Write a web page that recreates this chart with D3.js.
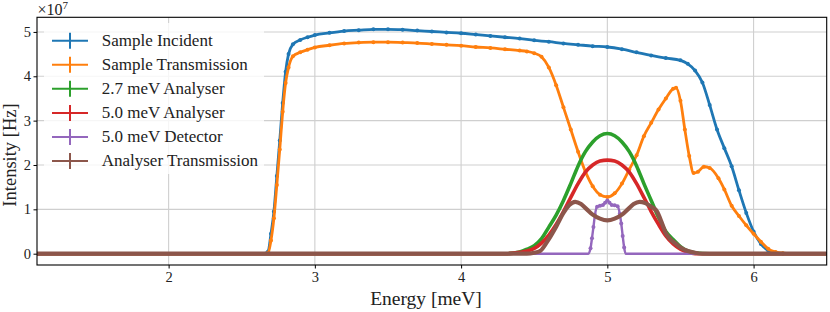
<!DOCTYPE html>
<html>
<head>
<meta charset="utf-8">
<script src="https://cdn.jsdelivr.net/npm/d3@7"></script>
<style>
  body { margin: 0; background: #fff; }
  svg text { font-family: "Liberation Serif", "Times New Roman", serif; fill: #222; }
</style>
</head>
<body>
<svg id="fig" width="830" height="312"></svg>
<script>
// values are in units of 1e7 Hz, energies in meV
var incidentE = [1.1, 2.65, 2.68, 2.70, 2.72, 2.74, 2.76, 2.78, 2.80, 2.82, 2.85, 2.90, 2.95, 3.00, 3.10, 3.20, 3.30, 3.40, 3.50, 3.60, 3.70, 3.80, 3.90, 4.00, 4.10, 4.20, 4.30, 4.40, 4.50, 4.60, 4.70, 4.80, 4.90, 5.00, 5.10, 5.20, 5.30, 5.40, 5.50, 5.55, 5.60, 5.65, 5.70, 5.75, 5.80, 5.85, 5.90, 5.95, 6.00, 6.05, 6.10, 6.15, 6.20, 6.25, 6.50];
var incidentI = [0, 0, 0.05, 0.45, 0.95, 1.75, 2.55, 3.4, 4.1, 4.5, 4.72, 4.82, 4.88, 4.93, 4.98, 5.02, 5.04, 5.06, 5.06, 5.05, 5.03, 5.01, 4.99, 4.97, 4.94, 4.91, 4.88, 4.85, 4.81, 4.78, 4.74, 4.71, 4.68, 4.66, 4.61, 4.54, 4.47, 4.41, 4.36, 4.28, 4.13, 3.86, 3.35, 2.8, 2.38, 1.97, 1.43, 0.92, 0.5, 0.22, 0.07, 0.02, 0.005, 0, 0];

var transE = [1.1, 2.65, 2.68, 2.70, 2.72, 2.74, 2.76, 2.78, 2.80, 2.82, 2.85, 2.90, 2.95, 3.00, 3.10, 3.20, 3.30, 3.40, 3.50, 3.60, 3.70, 3.80, 3.90, 4.00, 4.10, 4.20, 4.30, 4.40, 4.45, 4.50, 4.55, 4.60, 4.65, 4.70, 4.75, 4.80, 4.85, 4.90, 4.95, 5.00, 5.05, 5.10, 5.15, 5.20, 5.25, 5.30, 5.35, 5.40, 5.45, 5.47, 5.50, 5.53, 5.56, 5.59, 5.62, 5.66, 5.70, 5.76, 5.80, 5.85, 5.90, 5.95, 6.00, 6.05, 6.10, 6.15, 6.20, 6.25, 6.50];
var transI = [0, 0, 0.02, 0.3, 0.8, 1.55, 2.35, 3.2, 3.85, 4.2, 4.45, 4.54, 4.6, 4.65, 4.7, 4.74, 4.76, 4.77, 4.77, 4.76, 4.75, 4.73, 4.71, 4.69, 4.66, 4.64, 4.61, 4.58, 4.56, 4.52, 4.44, 4.2, 3.8, 3.3, 2.8, 2.3, 1.85, 1.52, 1.33, 1.28, 1.36, 1.58, 1.9, 2.22, 2.65, 2.95, 3.25, 3.5, 3.72, 3.74, 3.45, 2.8, 2.2, 1.82, 1.85, 1.96, 1.93, 1.7, 1.45, 1.08, 0.85, 0.64, 0.45, 0.27, 0.11, 0.04, 0.01, 0, 0];

var ana27E = [1.1, 4.30, 4.40, 4.45, 4.50, 4.55, 4.60, 4.65, 4.70, 4.75, 4.80, 4.85, 4.90, 4.95, 5.00, 5.05, 5.10, 5.15, 5.20, 5.25, 5.30, 5.35, 5.40, 5.45, 5.50, 5.55, 5.60, 5.70, 6.50];
var ana27I = [0, 0, 0.04, 0.1, 0.18, 0.34, 0.6, 0.87, 1.2, 1.58, 1.98, 2.3, 2.52, 2.66, 2.71, 2.66, 2.52, 2.3, 1.98, 1.58, 1.2, 0.82, 0.5, 0.32, 0.16, 0.06, 0.02, 0, 0];

var ana50E = [1.1, 4.30, 4.40, 4.45, 4.50, 4.55, 4.60, 4.65, 4.70, 4.75, 4.80, 4.85, 4.90, 4.95, 5.00, 5.05, 5.10, 5.15, 5.20, 5.25, 5.30, 5.35, 5.40, 5.45, 5.50, 5.55, 5.60, 6.50];
var ana50I = [0, 0, 0.03, 0.06, 0.12, 0.24, 0.42, 0.66, 0.95, 1.27, 1.58, 1.84, 2.0, 2.09, 2.11, 2.09, 2.0, 1.84, 1.58, 1.27, 0.95, 0.66, 0.4, 0.22, 0.1, 0.03, 0, 0];

var detE = [1.1, 4.87, 4.885, 4.895, 4.905, 4.915, 4.93, 4.95, 4.97, 4.985, 5.00, 5.015, 5.03, 5.05, 5.07, 5.085, 5.095, 5.105, 5.115, 5.125, 6.50];
var detI = [0, 0, 0.12, 0.35, 0.6, 0.87, 1.06, 1.08, 1.1, 1.15, 1.2, 1.15, 1.1, 1.09, 1.07, 0.9, 0.68, 0.4, 0.14, 0, 0];

var anaTransE = [1.1, 4.45, 4.50, 4.54, 4.60, 4.65, 4.70, 4.74, 4.78, 4.82, 4.86, 4.90, 4.95, 5.00, 5.05, 5.10, 5.14, 5.18, 5.22, 5.26, 5.30, 5.34, 5.37, 5.40, 5.43, 5.47, 5.50, 5.55, 5.60, 5.65, 6.50];
var anaTransI = [0, 0, 0.02, 0.06, 0.33, 0.61, 0.92, 1.1, 1.17, 1.12, 1.0, 0.88, 0.79, 0.75, 0.79, 0.88, 1.0, 1.12, 1.17, 1.14, 1.06, 0.95, 0.72, 0.46, 0.33, 0.22, 0.14, 0.06, 0.02, 0, 0];

var seriesNames = ["Sample Incident", "Sample Transmission", "2.7 meV Analyser", "5.0 meV Analyser", "5.0 meV Detector", "Analyser Transmission"];
var colours = ["#1f77b4", "#ff7f0e", "#2ca02c", "#d62728", "#9467bd", "#8c564b"];
var xTicks = [2, 3, 4, 5, 6];
var yTicks = [0, 1, 2, 3, 4, 5];

function drawChart() {
    var series = [
        {e: incidentE, v: incidentI, w: 2.8, dots: true},
        {e: transE, v: transI, w: 2.8, dots: true},
        {e: ana27E, v: ana27I, w: 3.6, dots: false},
        {e: ana50E, v: ana50I, w: 3.6, dots: false},
        {e: detE, v: detI, w: 2.4, dots: true},
        {e: anaTransE, v: anaTransI, w: 4.2, dots: false}
    ].map(function (s, i) {
        s.name = seriesNames[i];
        s.colour = colours[i];
        s.pts = s.e.map(function (d, j) { return [d, s.v[j]]; });
        return s;
    });

    var left = 37, right = 826.7, top = 17.3, bottom = 265;

    var x = d3.scaleLinear().domain([1.1, 6.5]).range([left, right]);
    var y = d3.scaleLinear().domain([-0.255, 5.33]).range([bottom, top]);

    var svg = d3.select("#fig");

    svg.append("clipPath").attr("id", "plotClip")
        .append("rect")
        .attr("x", left).attr("y", top)
        .attr("width", right - left).attr("height", bottom - top);

    //Grid lines
    var grid = svg.append("g").attr("class", "grid");
    grid.selectAll(".vgrid").data(xTicks).enter()
        .append("line")
        .attr("x1", function (d) { return x(d); })
        .attr("x2", function (d) { return x(d); })
        .attr("y1", top).attr("y2", bottom)
        .attr("stroke", "#cfcfcf").attr("stroke-width", 1.1);
    grid.selectAll(".hgrid").data(yTicks).enter()
        .append("line")
        .attr("y1", function (d) { return y(d); })
        .attr("y2", function (d) { return y(d); })
        .attr("x1", left).attr("x2", right)
        .attr("stroke", "#cfcfcf").attr("stroke-width", 1.1);

    //Curves
    var line = d3.line()
        .x(function (d) { return x(d[0]); })
        .y(function (d) { return y(d[1]); })
        .curve(d3.curveMonotoneX);

    var plot = svg.append("g").attr("clip-path", "url(#plotClip)");

    series.forEach(function (s) {
        var g = plot.append("g");
        g.append("path")
            .attr("d", line(s.pts))
            .attr("fill", "none")
            .attr("stroke", s.colour)
            .attr("stroke-width", s.w)
            .attr("stroke-linejoin", "round");
        if (s.dots) {
            g.selectAll("circle")
                .data(s.pts.filter(function (d) { return d[1] > 0; }))
                .enter()
                .append("circle")
                .attr("cx", function (d) { return x(d[0]); })
                .attr("cy", function (d) { return y(d[1]); })
                .attr("r", 2)
                .attr("fill", s.colour);
        }
    });

    //Axes
    var xAxis = svg.append("g")
        .attr("transform", "translate(0," + bottom + ")")
        .call(d3.axisBottom(x).tickValues(xTicks).tickSize(3.5).tickPadding(3.2)
            .tickFormat(d3.format("d")));
    var yAxis = svg.append("g")
        .attr("transform", "translate(" + left + ",0)")
        .call(d3.axisLeft(y).tickValues(yTicks).tickSize(3.5).tickPadding(2.5)
            .tickFormat(d3.format("d")));
    [xAxis, yAxis].forEach(function (a) {
        a.select(".domain").remove();
        a.selectAll(".tick line").attr("stroke", "#000").attr("stroke-width", 1);
        a.selectAll(".tick text")
            .style("font-family", "'Liberation Serif', serif")
            .style("font-size", "14.5px")
            .attr("fill", "#222");
    });

    svg.append("rect")
        .attr("x", left).attr("y", top)
        .attr("width", right - left).attr("height", bottom - top)
        .attr("fill", "none").attr("stroke", "#000").attr("stroke-width", 1.1);

    //Labels
    svg.append("text")
        .attr("x", 426).attr("y", 305)
        .attr("text-anchor", "middle")
        .style("font-size", "19.5px")
        .text("Energy [meV]");
    svg.append("text")
        .attr("transform", "translate(15.5,155) rotate(-90)")
        .attr("text-anchor", "middle")
        .style("font-size", "18.5px")
        .text("Intensity [Hz]");

    var mult = svg.append("text").attr("x", 37.5).attr("y", 15).style("font-size", "16px");
    mult.append("tspan").text("\u00d710");
    mult.append("tspan").attr("dy", -6.5).style("font-size", "11px").text("7");

    //Legend
    var legend = svg.append("g");
    legend.append("rect")
        .attr("x", 44).attr("y", 23)
        .attr("width", 220).attr("height", 151)
        .attr("rx", 3)
        .attr("fill", "#fff").attr("fill-opacity", 0.8);

    var items = legend.selectAll(".item").data(series).enter()
        .append("g")
        .attr("transform", function (d, i) { return "translate(0," + (40.7 + i * 24.06) + ")"; });
    items.append("line")
        .attr("x1", 52).attr("x2", 88).attr("y1", 0).attr("y2", 0)
        .attr("stroke", function (d) { return d.colour; })
        .attr("stroke-width", 2);
    items.append("line")
        .attr("x1", 70).attr("x2", 70).attr("y1", -8).attr("y2", 8)
        .attr("stroke", function (d) { return d.colour; })
        .attr("stroke-width", 2);
    items.append("text")
        .attr("x", 101.7).attr("y", 5.4)
        .style("font-size", "17px")
        .text(function (d) { return d.name; });
}

drawChart();
</script>
</body>
</html>
